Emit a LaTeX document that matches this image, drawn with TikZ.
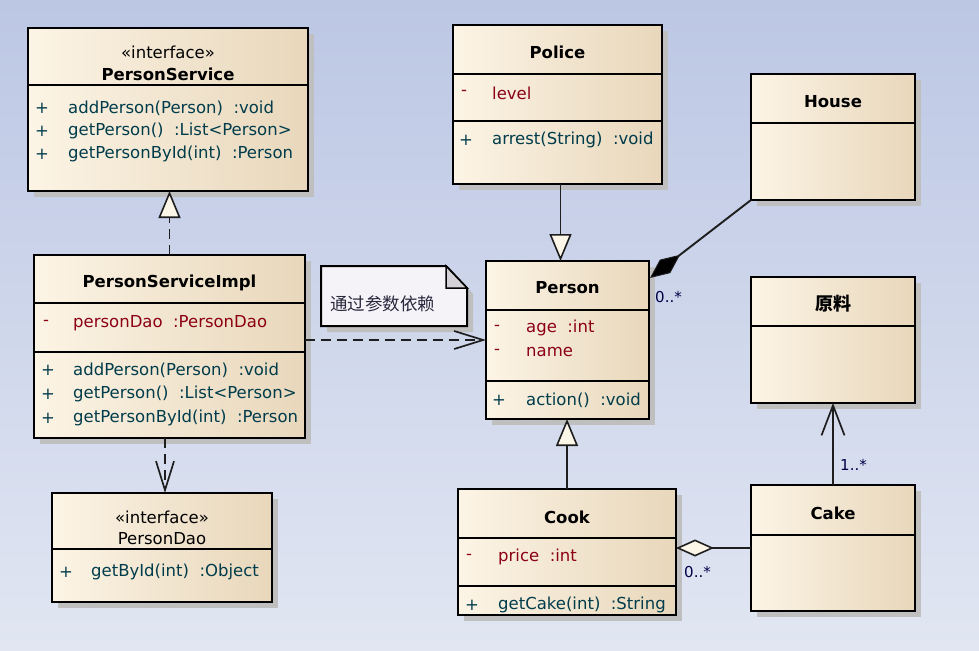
\documentclass[tikz,border=0pt]{standalone}
\usepackage{fontspec}
\setmainfont{DejaVu Sans}
\newfontfamily\cjk{Noto Sans CJK SC}
\usetikzlibrary{arrows.meta,shadows,calc}
\definecolor{bgtop}{RGB}{188,199,228}
\definecolor{bgbot}{RGB}{225,230,242}
\definecolor{boxL}{RGB}{252,244,229}
\definecolor{boxR}{RGB}{232,215,187}
\definecolor{shadowgray}{RGB}{191,191,191}
\definecolor{attrc}{RGB}{140,0,20}
\definecolor{methc}{RGB}{0,60,75}
\definecolor{labc}{RGB}{0,0,70}
\definecolor{linec}{RGB}{30,30,30}
\definecolor{notefill}{RGB}{246,243,248}
\definecolor{foldfill}{RGB}{212,210,216}
\definecolor{tipfill}{RGB}{252,246,232}
\newcommand\umldiv[3][2pt]{\draw[line width=#1,black] ($(#2.north west)+(0,#3)$) -- ($(#2.north east)+(0,#3)$);}
\begin{document}
\begin{tikzpicture}[x=1pt,y=-1pt,
  umlbox/.style={draw=black, line width=2pt, left color=boxL, right color=boxR,
    anchor=north west, inner sep=0pt, outer sep=0pt,
    drop shadow={shadow xshift=6pt, shadow yshift=-6pt, fill=shadowgray, opacity=1}},
  txt/.style={inner sep=0pt, font=\fontsize{16.5}{18}\selectfont},
  nm/.style={txt, text=black},
  bnm/.style={txt, text=black, font=\fontsize{16.5}{18}\selectfont\bfseries},
  attr/.style={txt, anchor=west, text=attrc},
  meth/.style={txt, anchor=west, text=methc},
  vis/.style={txt, text=#1},
  lab/.style={inner sep=0pt, anchor=west, text=labc, font=\fontsize{15}{17}\selectfont},
  conn/.style={draw=linec, line width=1.9pt},
  dashconn/.style={conn, dash pattern=on 10pt off 6pt},
  gentip/.style={-{Triangle[length=27pt,width=22pt,fill=tipfill,line width=1.6pt]}},
  deptip/.style={-{Straight Barb[length=29pt,width=18pt,line width=1.7pt]}},
]
\useasboundingbox (0,0) rectangle (979,650);
\fill[top color=bgtop, bottom color=bgbot] (0,0) rectangle (979,650);

% ---------- boxes ----------
\node[umlbox, minimum width=280pt, minimum height=163pt] (ps) at (28,28) {};
\node[umlbox, minimum width=271pt, minimum height=183pt] (psi) at (34,255) {};
\node[umlbox, minimum width=220pt, minimum height=109pt] (pd) at (52,493) {};
\node[umlbox, minimum width=209pt, minimum height=159pt] (police) at (453,25) {};
\node[umlbox, minimum width=164pt, minimum height=126pt] (house) at (751,74) {};
\node[umlbox, minimum width=163pt, minimum height=158pt] (person) at (486,261) {};
\node[umlbox, minimum width=164pt, minimum height=126pt] (raw) at (751,277) {};
\node[umlbox, minimum width=164pt, minimum height=126pt] (cake) at (751,485) {};
\node[umlbox, minimum width=218pt, minimum height=126pt] (cook) at (458,489) {};

% dividers
\umldiv{ps}{57}
\umldiv{psi}{48}
\umldiv{psi}{97}
\umldiv{pd}{56}
\umldiv{police}{49}
\umldiv[1.2pt]{police}{96}
\umldiv{house}{49}
\umldiv{person}{49}
\umldiv{person}{120}
\umldiv{raw}{49}
\umldiv{cake}{50}
\umldiv{cook}{49}
\umldiv{cook}{97}

% ---------- note ----------
\node[inner sep=0pt, outer sep=0pt, minimum width=146pt, minimum height=60pt, anchor=north west] (note) at (321,266) {};
\fill[shadowgray] ($(note.north west)+(6,6)$) -- ($(note.north east)+(-15,6)$) -- ($(note.north east)+(6,28)$) -- ($(note.south east)+(6,6)$) -- ($(note.south west)+(6,6)$) -- cycle;
\draw[line width=2pt, fill=notefill] (note.north west) -- ($(note.north east)+(-21,0)$) -- ($(note.north east)+(0,22)$) -- (note.south east) -- (note.south west) -- cycle;
\draw[line width=1.5pt, fill=foldfill, line join=miter] ($(note.north east)+(-21,0)$) -- ($(note.north east)+(-21,22)$) -- ($(note.north east)+(0,22)$) -- cycle;
\node[inner sep=0pt, anchor=west, font=\cjk\fontsize{17.5}{19}\selectfont, text={rgb,255:red,40;green,40;blue,60}] (note-t) at (330,304) {通过参数依赖};

% ---------- PersonService ----------
\node[nm] (ps-st) at (168,52) {«interface»};
\node[bnm] (ps-nm) at (168,74) {PersonService};
\node[vis=methc] (ps-v1) at (42,108) {+};
\node[vis=methc] (ps-v2) at (42,131) {+};
\node[vis=methc] (ps-v3) at (42,154) {+};
\node[meth] (ps-m1) at (68,108) {addPerson(Person)\ \ :void};
\node[meth] (ps-m2) at (68,131) {getPerson()\ \ :List<Person>};
\node[meth] (ps-m3) at (68,154) {getPersonById(int)\ \ :Person};

% ---------- PersonServiceImpl ----------
\node[bnm] (psi-nm) at (169.5,283) {PersonServiceImpl};
\node[vis=attrc] (psi-v0) at (46,323) {-};
\node[attr] (psi-a1) at (73,323) {personDao\ \ :PersonDao};
\node[vis=methc] (psi-v1) at (48,370) {+};
\node[vis=methc] (psi-v2) at (48,394) {+};
\node[vis=methc] (psi-v3) at (48,418) {+};
\node[meth] (psi-m1) at (73,370) {addPerson(Person)\ \ :void};
\node[meth] (psi-m2) at (73,394) {getPerson()\ \ :List<Person>};
\node[meth] (psi-m3) at (73,418) {getPersonById(int)\ \ :Person};

% ---------- PersonDao ----------
\node[nm] (pd-st) at (162,517) {«interface»};
\node[nm] (pd-nm) at (162,539) {PersonDao};
\node[vis=methc] (pd-v1) at (66,572) {+};
\node[meth] (pd-m1) at (91,572) {getById(int)\ \ :Object};

% ---------- Police ----------
\node[bnm] (police-nm) at (557.5,52) {Police};
\node[vis=attrc] (police-v0) at (464,93) {-};
\node[attr] (police-a1) at (492,93) {level};
\node[vis=methc] (police-v1) at (466,140) {+};
\node[meth] (police-m1) at (492,140) {arrest(String)\ \ :void};

% ---------- House ----------
\node[bnm] (house-nm) at (833,102) {House};

% ---------- Person ----------
\node[bnm] (person-nm) at (567.5,288) {Person};
\node[vis=attrc] (person-v1) at (497,328) {-};
\node[vis=attrc] (person-v2) at (497,352) {-};
\node[attr] (person-a1) at (526,328) {age\ \ :int};
\node[attr] (person-a2) at (526,352) {name};
\node[vis=methc] (person-v3) at (499,400) {+};
\node[meth] (person-m1) at (526,400) {action()\ \ :void};

% ---------- 原料 ----------
\node[txt, font=\cjk\fontsize{18}{20}\selectfont\bfseries] (raw-nm) at (833,304) {原料};

% ---------- Cake ----------
\node[bnm] (cake-nm) at (833,513) {Cake};

% ---------- Cook ----------
\node[bnm] (cook-nm) at (567,517) {Cook};
\node[vis=attrc] (cook-v0) at (469,557) {-};
\node[attr] (cook-a1) at (498,557) {price\ \ :int};
\node[vis=methc] (cook-v1) at (472,605) {+};
\node[meth] (cook-m1) at (498,605) {getCake(int)\ \ :String};

% ---------- connectors ----------
% realization PersonServiceImpl -> PersonService
\draw[dashconn, gentip] (psi.north) -- (psi.north |- ps.south);
% dependency PersonServiceImpl -> PersonDao
\draw[dashconn, deptip] ($(psi.south)+(-4.5,0)$) -- ($(pd.north)+(3,0)$);
% dependency PersonServiceImpl -> Person
\draw[dashconn, deptip] (person.west -| psi.east) -- (person.west);
% generalization Police -> Person
\draw[conn, gentip] ($(police.south)+(3,0)$) -- ($(police.south |- person.north)+(3,0)$);
% generalization Cook -> Person
\draw[conn, gentip] (cook.north) -- (cook.north |- person.south);
% composition House -> Person
\coordinate (compEnd) at ($(person.north east)+(1,17)$);
\draw[conn, -{Diamond[length=38pt,width=17pt,fill=black,line width=1pt]}] (house.south west) -- (compEnd);
% aggregation Cake -> Cook
\draw[conn, -{Diamond[length=38pt,width=17pt,fill=tipfill,line width=1.6pt]}] (cake.west) -- (cake.west -| cook.east);
% association Cake -> 原料
\draw[conn, -{Straight Barb[length=30pt,width=23pt,line width=1.7pt]}] (cake.north) -- (raw.south);

% labels
\node[lab] (lab-comp) at (655,297) {0..*};
\node[lab] (lab-agg) at (684,572) {0..*};
\node[lab] (lab-assoc) at (840,465) {1..*};
\end{tikzpicture}
\end{document}
